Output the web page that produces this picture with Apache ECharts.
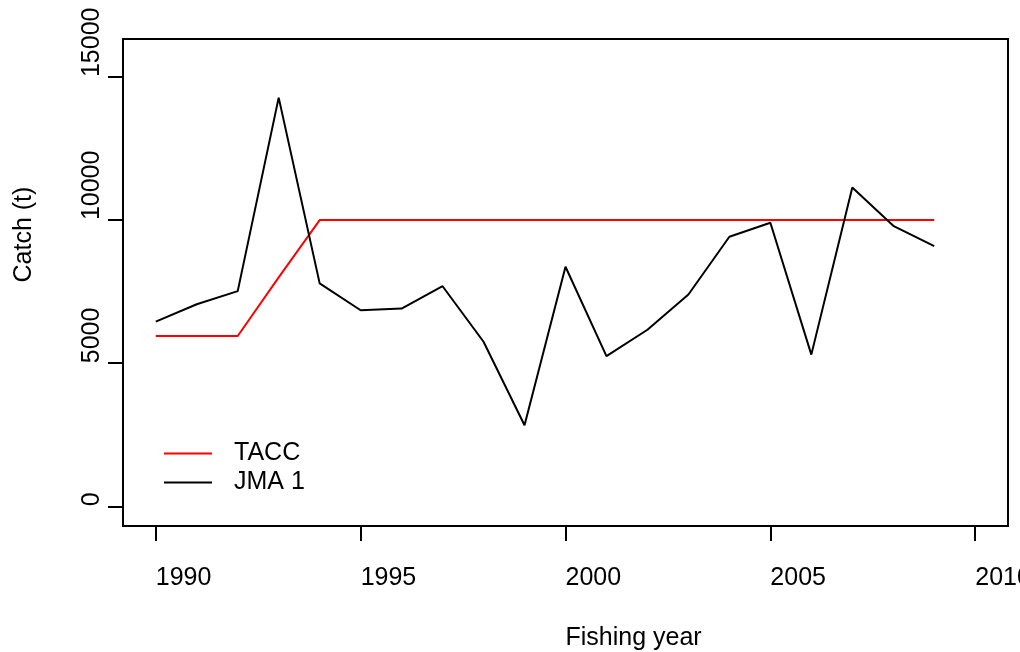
<!DOCTYPE html>
<html>
<head>
<meta charset="utf-8">
<script src="https://cdn.jsdelivr.net/npm/echarts@6/dist/echarts.min.js"></script>
<style>
html,body{margin:0;padding:0;background:#fff;}
#chart{width:1020px;height:652px;}
</style>
</head>
<body>
<div id="chart"></div>
<script>
// Data
const years = [1990,1991,1992,1993,1994,1995,1996,1997,1998,1999,2000,2001,2002,2003,2004,2005,2006,2007,2008,2009];
const catchJMA1 = [6450,7060,7520,14280,7790,6850,6910,7690,5750,2830,8370,5250,6170,7400,9420,9910,5300,11140,9800,9090];
const tacc = [5950,5950,5950,8000,10000,10000,10000,10000,10000,10000,10000,10000,10000,10000,10000,10000,10000,10000,10000,10000];
const xTicks = [1990,1995,2000,2005,2010];
const yTicks = [0,5000,10000,15000];
const seriesNames = ['TACC','JMA 1'];

const FONT = "'Liberation Sans', Arial, sans-serif";
const chart = echarts.init(document.getElementById('chart'), null, {renderer:'canvas'});

const zip = (xs, ys) => xs.map((x,i) => [x, ys[i]]);

chart.setOption({
  animation: false,
  backgroundColor: '#fff',
  textStyle: {fontFamily: FONT, color: '#000'},
  grid: {
    left: 123, top: 39, right: 12, bottom: 126,
    outerBoundsMode: 'none', containLabel: false,
    show: true, borderColor: '#000', borderWidth: 2, backgroundColor: 'transparent'
  },
  legend: {
    left: 164, top: 441, orient: 'vertical', padding: 0,
    icon: 'rect',
    itemWidth: 48, itemHeight: 2, itemGap: 4,
    data: seriesNames,
    textStyle: {fontFamily: FONT, fontSize: 25, color: '#000', padding: [0,0,0,17]}
  },
  xAxis: {
    type: 'value', min: 1989.2, max: 2010.8,
    name: 'Fishing year', nameLocation: 'middle', nameGap: 100,
    nameTextStyle: {fontFamily: FONT, fontSize: 25, color: '#000', align: 'left', verticalAlign: 'top'},
    axisLine: {show: false, onZero: false},
    splitLine: {show: false},
    axisTick: {show: true, length: 15, inside: false, customValues: xTicks, lineStyle: {color: '#000', width: 2}},
    axisLabel: {customValues: xTicks, fontFamily: FONT, fontSize: 25, color: '#000', align: 'left', verticalAlign: 'top', margin: 40,
      showMaxLabel: true, hideOverlap: false, formatter: v => String(v)}
  },
  yAxis: {
    type: 'value', min: -689, max: 16329,
    name: 'Catch (t)', nameLocation: 'middle', nameGap: 86, nameRotate: 90,
    nameTextStyle: {fontFamily: FONT, fontSize: 25, color: '#000', align: 'left', verticalAlign: 'bottom'},
    axisLine: {show: false, onZero: false},
    splitLine: {show: false},
    axisTick: {show: true, length: 15, inside: false, customValues: yTicks, lineStyle: {color: '#000', width: 2}},
    axisLabel: {customValues: yTicks, rotate: 90, fontFamily: FONT, fontSize: 25, color: '#000', align: 'left', verticalAlign: 'bottom', margin: 18,
      formatter: v => String(v)}
  },
  series: [
    {name: seriesNames[0], type: 'line', data: zip(years, tacc), symbol: 'none', color: '#ff0000',
     lineStyle: {color: '#ff0000', width: 2}},
    {name: seriesNames[1], type: 'line', data: zip(years, catchJMA1), symbol: 'none', color: '#000000',
     lineStyle: {color: '#000000', width: 2}}
  ]
});
</script>
</body>
</html>
